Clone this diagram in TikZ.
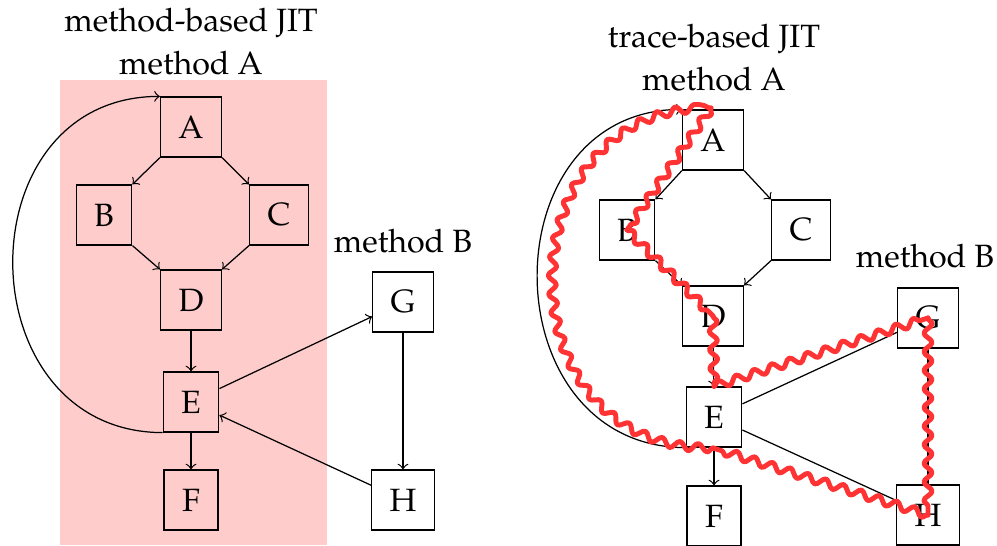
\documentclass[tikz,border=0pt]{standalone}
\usepackage[T1]{fontenc}
\usepackage{mathpazo}
\usetikzlibrary{decorations.pathmorphing}
\def\pxu{0.3226pt}
\tikzset{
  boxnode/.style={draw, inner xsep=5.8pt, minimum height={60*\pxu}, inner ysep=0pt},
  lbl/.style={anchor=base, inner sep=0pt},
  edge/.style={->},
  snakeline/.style={draw=red!80, line width=1.6pt, line cap=round, line join=round, decorate,
    decoration={snake, amplitude=1.3pt, segment length=6pt}}
}
\begin{document}
\begin{tikzpicture}[x=0.3226pt, y=-0.3226pt, font=\fontsize{10.4pt}{12.5pt}\selectfont]
\useasboundingbox (0,0) rectangle (997,545);
\fill[red!20] (60,80) rectangle (327,545);
% ---------- left: method-based JIT ----------
\node[lbl] (t1) at (191,32) {method-based JIT};
\node[lbl] (t2) at (191,75) {method A};
\node[lbl] (t3) at (403,252) {method B};
\node[boxnode] (A) at (191,127) {A};
\node[boxnode] (B) at (104,215) {B};
\node[boxnode] (C) at (279,215) {C};
\node[boxnode] (D) at (191,300) {D};
\node[boxnode] (E) at (191,402) {E};
\node[boxnode] (F) at (191,500) {F};
\node[boxnode] (G) at (403,302) {G};
\node[boxnode] (H) at (403,500) {H};
\draw[edge] (A.south west) -- (B.north east);
\draw[edge] (A.south east) -- (C.north west);
\draw[edge] (B.south east) -- (D.north west);
\draw[edge] (C.south west) -- (D.north east);
\draw[edge] (D) -- (E);
\draw[edge] (E) -- (F);
\draw[edge] (E) -- (G);
\draw[edge] (G) -- (H);
\draw[edge] (H) -- (E);
\draw[edge] (E.south west) .. controls (-35,432) and (-38,97) .. (A.north west);
% ---------- right: trace-based JIT ----------
\node[lbl] (u1) at (714,48) {trace-based JIT};
\node[lbl] (u2) at (714,91) {method A};
\node[lbl] (u3) at (925,267) {method B};
\node[boxnode] (A2) at (713,140) {A};
\node[boxnode] (B2) at (627,230) {B};
\node[boxnode] (C2) at (801,230) {C};
\node[boxnode] (D2) at (713,316) {D};
\node[boxnode] (E2) at (714,417) {E};
\node[boxnode] (F2) at (714,516) {F};
\node[boxnode] (G2) at (928,318) {G};
\node[boxnode] (H2) at (928,515) {H};
\draw[edge] (A2.south west) -- (B2.north east);
\draw[edge] (A2.south east) -- (C2.north west);
\draw[edge] (B2.south east) -- (D2.north west);
\draw[edge] (C2.south west) -- (D2.north east);
\draw[edge] (D2) -- (E2);
\draw[edge] (E2) -- (F2);
\draw (E2) -- (G2);
\draw (G2) -- (H2);
\draw (E2) -- (H2);
\draw[edge] (E2.south west) .. controls (490,447) and (487,110) .. (A2.north west);
% trace (each leg decorated on its own)
\coordinate (s0) at (711,108);
\coordinate (s1) at (713,448);
\draw[snakeline] (s0) -- (B2.center);
\draw[snakeline] (B2.center) -- (D2.center);
\draw[snakeline] (D2.center) -- (E2.north);
\draw[snakeline] (E2.north) -- (G2.center);
\draw[snakeline] (G2.center) -- (H2.center);
\draw[snakeline] (H2.center) -- (s1);
\draw[snakeline] (s1) .. controls (500,446) and (510,108) .. (s0);
\end{tikzpicture}
\end{document}
